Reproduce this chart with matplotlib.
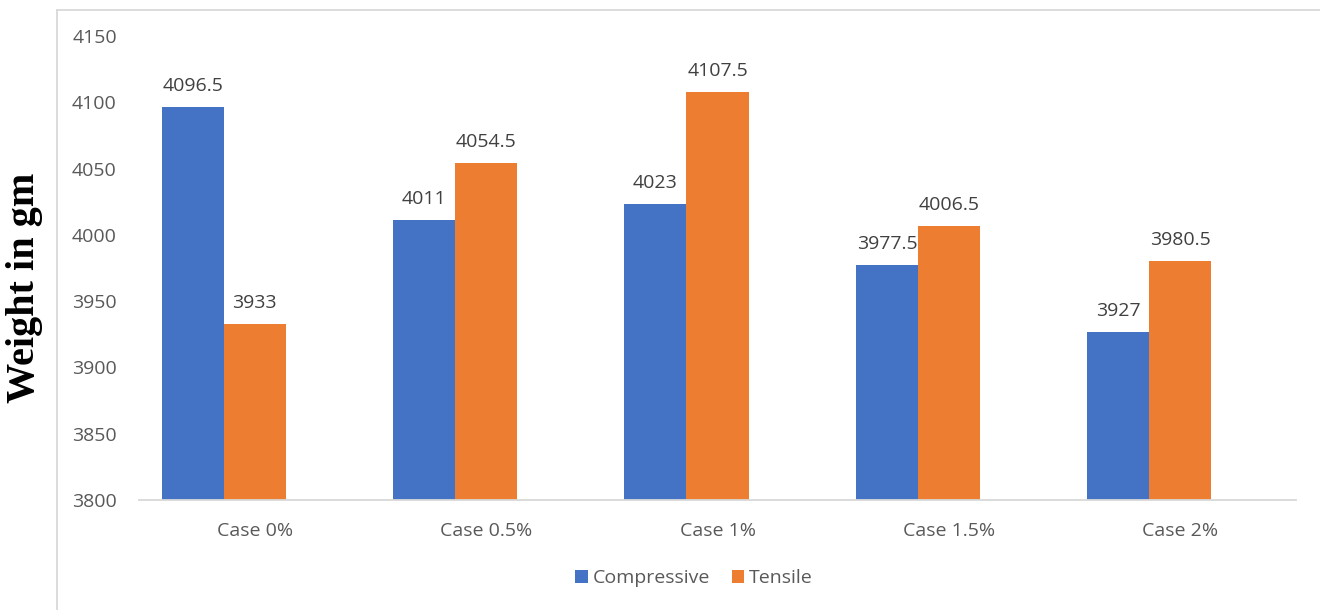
import matplotlib
matplotlib.use("Agg")
import matplotlib.pyplot as plt
import numpy as np

categories = ["Case 0%", "Case 0.5%", "Case 1%", "Case 1.5%", "Case 2%"]
compressive = [4096.5, 4011, 4023, 3977.5, 3927]
tensile = [3933, 4054.5, 4107.5, 4006.5, 3980.5]
labels_c = ["4096.5", "4011", "4023", "3977.5", "3927"]
labels_t = ["3933", "4054.5", "4107.5", "4006.5", "3980.5"]
yticks = [3800, 3850, 3900, 3950, 4000, 4050, 4100, 4150]

BLUE = "#4472C4"
ORANGE = "#ED7D31"
GRAY = "#595959"
FONT = "Open Sans"
FS = 14

W, H = 1320, 610
fig = plt.figure(figsize=(W / 100, H / 100), dpi=100)

# chart frame lines (light gray)
fig.add_artist(plt.Line2D([57 / W, 57 / W], [0, 1 - 10 / H], color="#D9D9D9", lw=1.3))
fig.add_artist(plt.Line2D([57 / W, 1], [1 - 10 / H, 1 - 10 / H], color="#D9D9D9", lw=1.3))

x0, x1 = 139, 1296
ytop, ybot = 36, 500
ax = fig.add_axes([x0 / W, 1 - ybot / H, (x1 - x0) / W, (ybot - ytop) / H])

x = np.arange(len(categories))
bw = 0.268
# Excel layout: three slots per category, the third one empty
b1 = ax.bar(x - bw, compressive, bw, color=BLUE, label="Compressive")
b2 = ax.bar(x, tensile, bw, color=ORANGE, label="Tensile")
ax.set_ylim(3800, 4150)
ax.set_xlim(-0.5, len(categories) - 0.5)
ax.set_yticks(yticks)
ax.set_yticklabels([str(v) for v in yticks], fontfamily=FONT, fontsize=FS, color=GRAY)
ax.set_xticks(x)
ax.set_xticklabels(categories, fontfamily=FONT, fontsize=FS, color=GRAY)
ax.tick_params(axis="both", length=0)
ax.tick_params(axis="y", pad=16)
ax.tick_params(axis="x", pad=16)
for s in ["top", "right", "left"]:
    ax.spines[s].set_visible(False)
ax.spines["bottom"].set_color("#D9D9D9")
ax.spines["bottom"].set_linewidth(1.3)

for bars, labs in ((b1, labels_c), (b2, labels_t)):
    for r, lab in zip(bars, labs):
        ax.annotate(lab, (r.get_x() + r.get_width() / 2, r.get_height()),
                    xytext=(0, 11.5), textcoords="offset points", ha="center", va="baseline",
                    fontfamily=FONT, fontsize=FS, color="#404040")

fig.text(25 / W, 1 - 288 / H, "Weight in gm", rotation=90, ha="center", va="center",
         fontfamily="Liberation Serif", fontweight="bold", fontsize=29, color="black")

leg = fig.legend(handles=[b1, b2], labels=["Compressive", "Tensile"], loc="center",
                 bbox_to_anchor=(694 / W, 1 - 578 / H), ncol=2, frameon=False,
                 prop={"family": FONT, "size": FS}, handlelength=0.65, handleheight=0.65,
                 handletextpad=0.25, columnspacing=1.1)
for t in leg.get_texts():
    t.set_color(GRAY)

fig.savefig("out.png", dpi=100, facecolor="white")
